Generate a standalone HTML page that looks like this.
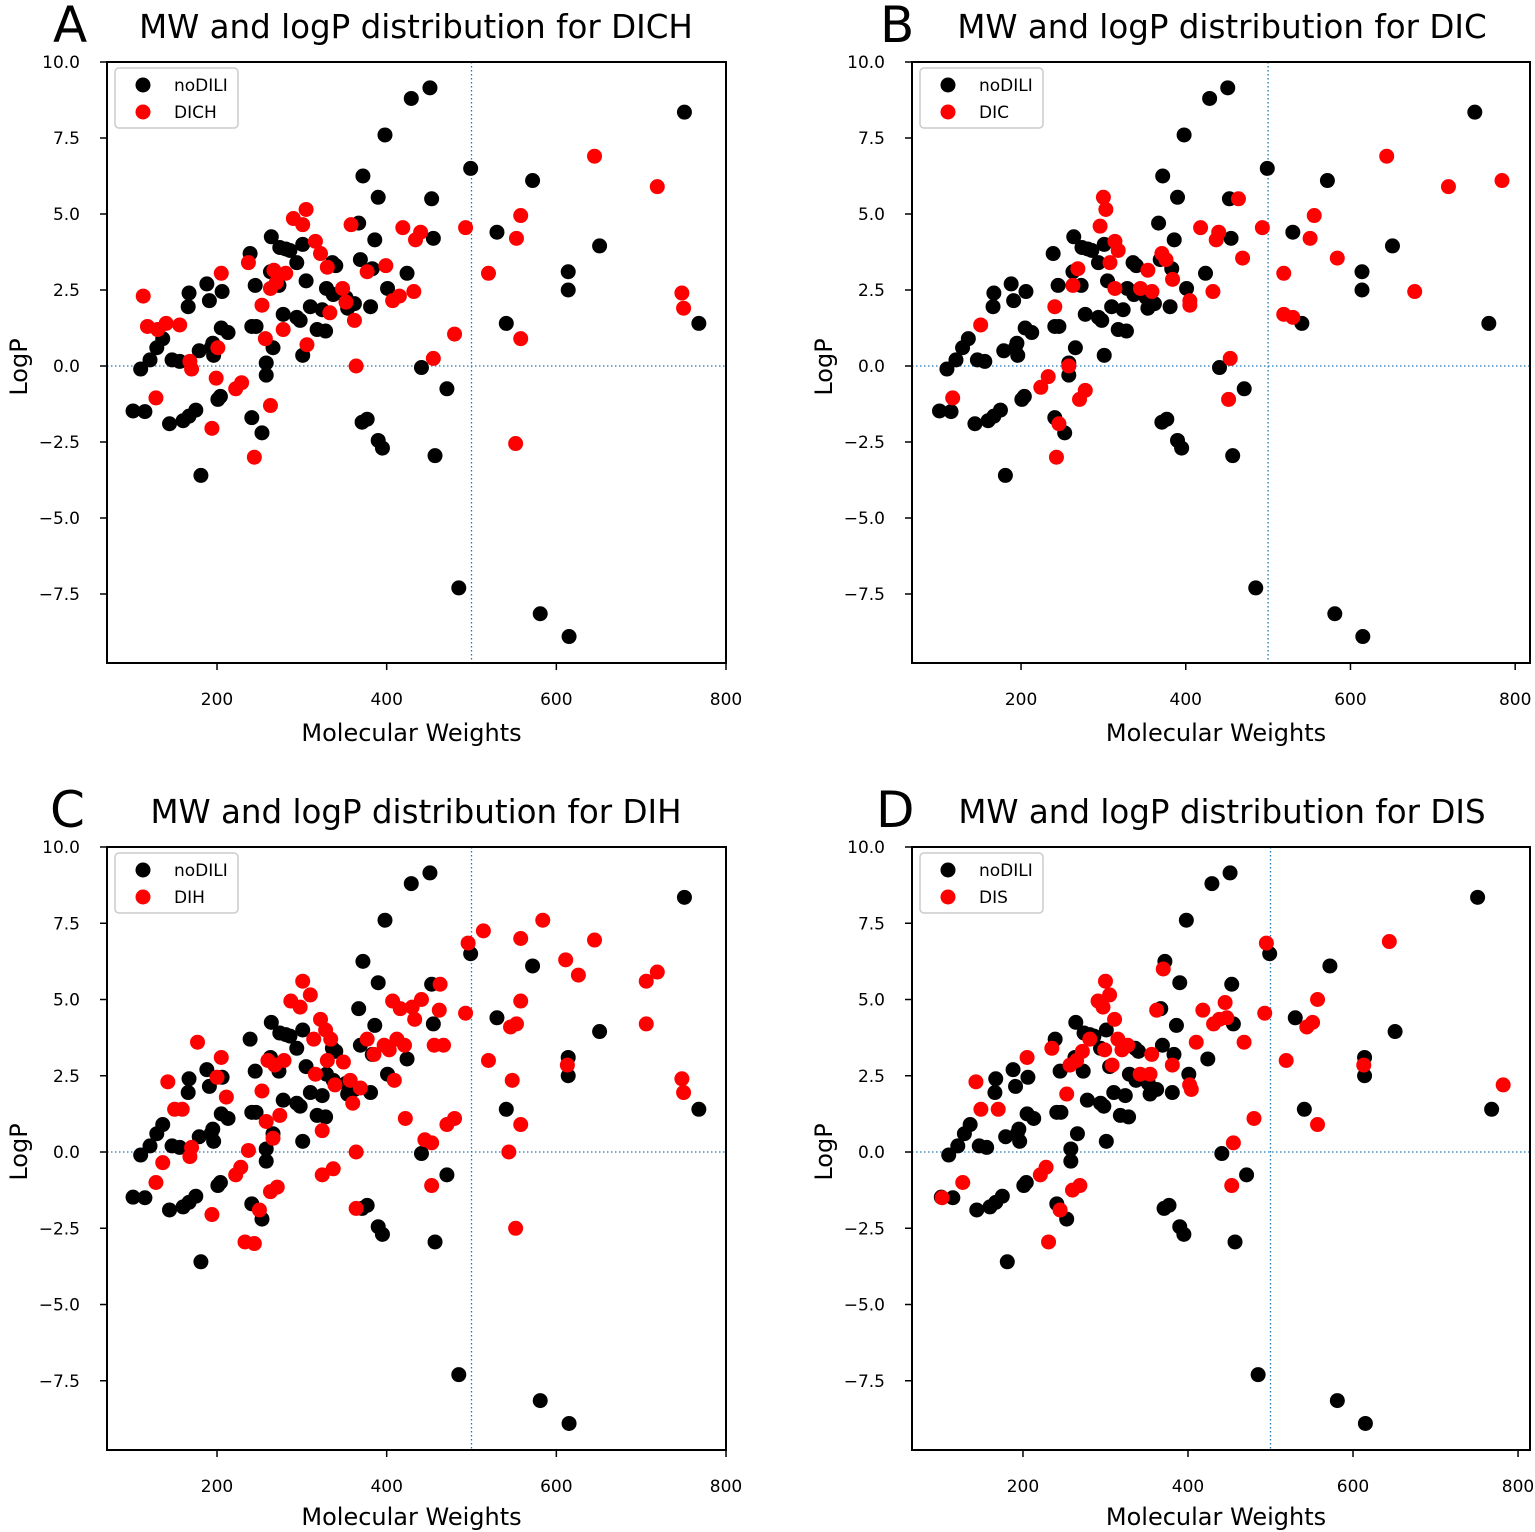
<!DOCTYPE html>
<html><head><meta charset="utf-8"><style>
html,body{margin:0;padding:0;background:#fff}
svg{display:block;font-family:"DejaVu Sans","Liberation Sans",sans-serif}
</style></head><body>
<svg id="fig" width="1535" height="1532" viewBox="0 0 1535 1532" xmlns="http://www.w3.org/2000/svg"></svg>
<script>
const blackMW=[101,115,110,121,129,136,144,160,167,175,181,167,166,147,156,179,188,191,193,195,196,201,204,205,206,213,239,245,241,246,241,253,258,258,264,263,266,274,281,286,273,278,294,294,298,301,301,305,310,318,324,328,329,336,340,337,352,354,362,367,369,372,371,377,381,383,386,390,398,390,395,401,424,429,451,453,455,441,457,471,485,499,530,541,572,581,614,614,615,651,751,768];
const blackLogP=[-1.48,-1.5,-0.1,0.2,0.6,0.9,-1.9,-1.8,-1.65,-1.45,-3.6,2.4,1.95,0.2,0.15,0.5,2.7,2.15,0.6,0.75,0.35,-1.1,-1.0,1.25,2.45,1.1,3.7,2.65,1.3,1.3,-1.7,-2.2,-0.3,0.1,4.25,3.1,0.6,3.9,3.85,3.8,2.65,1.7,3.4,1.6,1.5,0.35,4.0,2.8,1.95,1.2,1.85,1.15,2.55,3.4,3.3,2.35,2.25,1.9,2.05,4.7,3.5,6.25,-1.85,-1.75,1.95,3.2,4.15,5.55,7.6,-2.45,-2.7,2.55,3.05,8.8,9.15,5.5,4.2,-0.05,-2.95,-0.75,-7.3,6.5,4.4,1.4,6.1,-8.15,3.1,2.5,-8.9,3.95,8.35,1.4];
const dichMW=[113,118,128,130,140,156,168,170,194,199,201,205,222,229,237,244,253,257,263,263,267,270,278,281,290,301,305,316,322,330,333,306,348,352,358,362,364,377,399,407,415,419,432,434,440,455,480,493,520,553,558,558,552,645,719,748,750];
const dichLogP=[2.3,1.3,-1.05,1.2,1.4,1.35,0.15,-0.1,-2.05,-0.4,0.6,3.05,-0.75,-0.55,3.4,-3.0,2.0,0.9,-1.3,2.55,3.15,2.75,1.2,3.05,4.85,4.65,5.15,4.1,3.7,3.25,1.75,0.7,2.55,2.1,4.65,1.5,0.0,3.1,3.3,2.15,2.3,4.55,2.45,4.15,4.4,0.25,1.05,4.55,3.05,4.2,4.95,0.9,-2.55,6.9,5.9,2.4,1.9];
const dicMW=[117,151,241,224,233,243,246,258,263,269,271,278,296,300,303,308,314,318,314,345,354,359,371,376,384,405,405,418,433,437,440,464,469,454,452,493,519,519,530,551,556,584,644,678,719,784];
const dicLogP=[-1.05,1.35,1.95,-0.7,-0.35,-3.0,-1.9,0.0,2.65,3.2,-1.1,-0.8,4.6,5.55,5.15,3.4,4.1,3.8,2.55,2.55,3.15,2.45,3.7,3.5,2.85,2.15,2.0,4.55,2.45,4.15,4.4,5.5,3.55,0.25,-1.1,4.55,3.05,1.7,1.6,4.2,4.95,3.55,6.9,2.45,5.9,6.1];
const dihMW=[128,136,142,150,159,168,170,177,194,200,205,211,222,228,233,237,244,250,253,258,260,263,271,266,274,268,279,287,298,301,310,314,322,328,334,316,324,330,339,324,337,349,357,360,364,364,369,377,385,397,403,412,421,407,416,430,433,441,409,422,445,453,456,462,463,467,453,471,480,493,496,514,520,546,548,553,558,558,558,552,544,584,611,613,626,645,706,706,719,748,750];
const dihLogP=[-1.0,-0.35,2.3,1.4,1.4,-0.15,0.15,3.6,-2.05,2.45,3.1,1.8,-0.75,-0.5,-2.95,0.05,-3.0,-1.9,2.0,1.0,3.0,-1.3,-1.15,0.45,1.2,2.85,3.0,4.95,4.75,5.6,5.15,3.7,4.35,4.0,3.7,2.55,0.7,3.0,2.2,-0.75,-0.55,2.95,2.35,1.6,-1.85,0.0,2.1,3.7,3.2,3.5,3.35,3.7,3.5,4.95,4.7,4.75,4.35,5.0,2.35,1.1,0.4,0.3,3.5,4.65,5.5,3.5,-1.1,0.9,1.1,4.55,6.85,7.25,3.0,4.1,2.35,4.2,7.0,4.95,0.9,-2.5,0.0,7.6,6.3,2.85,5.8,6.95,5.6,4.2,5.9,2.4,1.95];
const disMW=[102,127,143,149,170,205,221,228,231,235,245,253,257,260,269,265,272,281,291,297,300,305,299,308,311,315,320,327,342,354,356,362,370,381,402,404,410,418,431,438,445,447,455,453,468,480,493,495,519,544,551,557,557,613,644,782];
const disLogP=[-1.5,-1.0,2.3,1.4,1.4,3.1,-0.75,-0.5,-2.95,3.4,-1.9,1.9,2.85,-1.25,-1.1,3.0,3.3,3.7,4.95,4.75,5.6,5.15,3.35,2.85,4.35,3.7,3.35,3.5,2.55,2.55,3.2,4.65,6.0,2.85,2.2,2.05,3.6,4.65,4.2,4.35,4.9,4.4,0.3,-1.1,3.6,1.1,4.55,6.85,3.0,4.1,4.25,5.0,0.9,2.85,6.9,2.2];
const xTicks=[200,400,600,800];
const yTicks=[10.0,7.5,5.0,2.5,0.0,-2.5,-5.0,-7.5];

const NS='http://www.w3.org/2000/svg';
const fig=document.getElementById('fig');
function mk(tag,attrs,parent,txt){const e=document.createElementNS(NS,tag);for(const k in attrs)e.setAttribute(k,attrs[k]);if(txt!==undefined)e.textContent=txt;parent.appendChild(e);return e;}
function lab(v){const s=Math.abs(v).toFixed(1);return v<0?'\u2212'+s:s;}

function panel(p){
  const g=mk('g',{},fig);
  
  
  const xs=v=>p.L+(v-p.x0)/(p.x1-p.x0)*p.W;
  const ys=v=>p.T+(10-v)/(10-(-9.77))*p.H;
  const vl=mk('line',{x1:xs(500),x2:xs(500),y1:p.T,y2:p.T+p.H,stroke:'#1f77b4','stroke-width':1.3,'stroke-dasharray':'1.5,2.5'},g);
  
  const hl=mk('line',{x1:p.L,x2:p.L+p.W,y1:ys(0),y2:ys(0),stroke:'#1f77b4','stroke-width':1.3,'stroke-dasharray':'1.5,2.5'},g);
  
  for(let i=0;i<blackMW.length;i++){
    const c=mk('circle',{cx:xs(blackMW[i]),cy:ys(blackLogP[i]),r:7.5,fill:'#000'},g);
    
    
  }
  for(let i=0;i<p.rx.length;i++){
    const c=mk('circle',{cx:xs(p.rx[i]),cy:ys(p.ry[i]),r:7.5,fill:'#ff0000'},g);
    
    
  }
  const fr=mk('rect',{x:p.L,y:p.T,width:p.W,height:p.H,fill:'none',stroke:'#000','stroke-width':2},g);
  
  xTicks.forEach(v=>{
    const x=xs(v);
    mk('line',{x1:x,x2:x,y1:p.T+p.H,y2:p.T+p.H+7,stroke:'#000','stroke-width':1.5},g);
    const t=mk('text',{x:x,y:p.T+p.H+42,'text-anchor':'middle','font-size':17},g,String(v));
    
  });
  yTicks.forEach(v=>{
    const y=ys(v);
    mk('line',{x1:p.L-7,x2:p.L,y1:y,y2:y,stroke:'#000','stroke-width':1.5},g);
    const t=mk('text',{x:p.L-27,y:y+6,'text-anchor':'end','font-size':17},g,lab(v));
    
  });
  const xl=mk('text',{x:p.L+p.W/2-5,y:p.T+p.H+p.xlOff,'text-anchor':'middle','font-size':24},g,'Molecular Weights');
  
  const yl=mk('text',{x:0,y:0,'text-anchor':'middle','font-size':24,transform:'translate('+(p.L-80)+','+(p.T+305)+') rotate(-90)'},g,'LogP');
  
  const ti=mk('text',{x:p.tx,y:p.T-24,'text-anchor':'middle','font-size':32.5},g,'MW and logP distribution for '+p.cls);
  
  const le=mk('text',{x:p.lx,y:p.T-20,'font-size':50},g,p.letter);
  
  const lg=mk('g',{},g);
  
  mk('rect',{x:p.L+8,y:p.T+6,width:123,height:60,rx:4,fill:'#fff',stroke:'#ccc','stroke-width':1.5},lg);
  mk('circle',{cx:p.L+36,cy:p.T+23,r:7.5,fill:'#000'},lg);
  mk('circle',{cx:p.L+36,cy:p.T+50,r:7.5,fill:'#ff0000'},lg);
  const l1=mk('text',{x:p.L+67,y:p.T+29,'font-size':17},lg,'noDILI');
  
  const l2=mk('text',{x:p.L+67,y:p.T+56,'font-size':17},lg,p.cls);
  
}
panel({letter:'A',cls:'DICH',L:107,T:62,W:619,H:601,x0:70.3,x1:800,rx:dichMW,ry:dichLogP,tx:416,lx:53,xlOff:78});
panel({letter:'B',cls:'DIC',L:912,T:62,W:618,H:601,x0:67.6,x1:818,rx:dicMW,ry:dicLogP,tx:1222,lx:880,xlOff:78});
panel({letter:'C',cls:'DIH',L:107,T:847,W:619,H:603,x0:70.3,x1:800,rx:dihMW,ry:dihLogP,tx:416,lx:50,xlOff:75});
panel({letter:'D',cls:'DIS',L:912,T:847,W:618,H:603,x0:65.5,x1:814.5,rx:disMW,ry:disLogP,tx:1222,lx:876,xlOff:75});
</script>
</body></html>
